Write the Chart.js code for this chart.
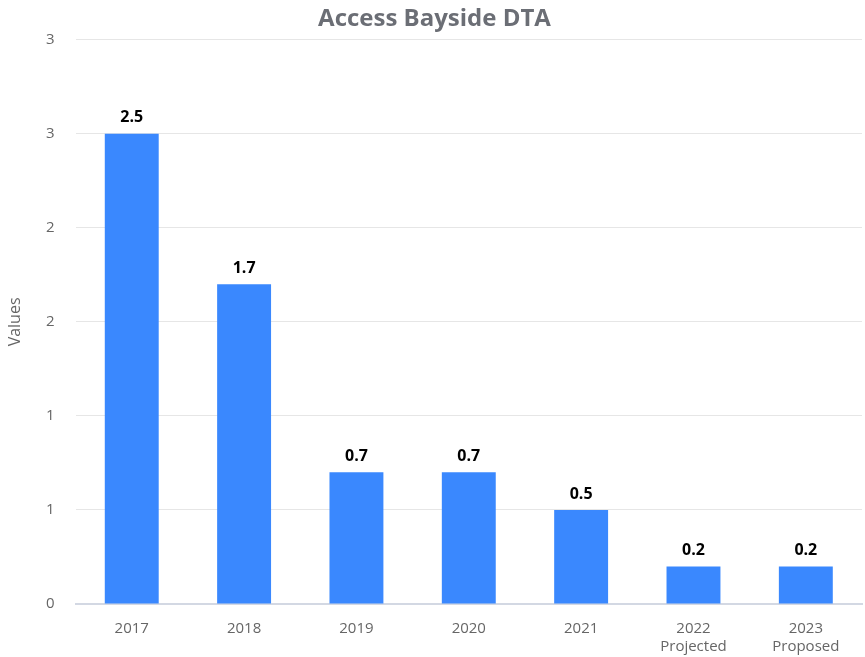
<!DOCTYPE html>
<html>
<head>
<meta charset="utf-8">
<script src="https://cdn.jsdelivr.net/npm/chart.js@4"></script>
<style>
  html, body { margin: 0; padding: 0; background: #fff; }
  #wrap { width: 865px; height: 657px; }
</style>
</head>
<body>
<div id="wrap"><canvas id="grafico"></canvas></div>
<script>
// datos del grafico
const categorias = [
    '2017', '2018', '2019', '2020', '2021',
    ['2022', 'Projected'], ['2023', 'Proposed']
];
const valores = [2.5, 1.7, 0.7, 0.7, 0.5, 0.2, 0.2];
const etiquetasY = ['0', '1', '1', '2', '2', '3', '3'];

// etiquetas encima de las barras
const etiquetasBarras = {
    id: 'etiquetasBarras',
    afterDatasetsDraw(chart) {
        const ctx = chart.ctx;
        const meta = chart.getDatasetMeta(0);
        ctx.save();
        ctx.font = 'bold 16px "Open Sans", sans-serif';
        ctx.fillStyle = '#000';
        ctx.textAlign = 'center';
        ctx.textBaseline = 'bottom';
        meta.data.forEach(function (bar, i) {
            ctx.fillText(valores[i].toFixed(1), bar.x, bar.y - 8);
        });
        ctx.restore();
    }
};

let grafico = new Chart(
    document.getElementById('grafico').getContext('2d'), {
    type: 'bar',
    data: {
        labels: categorias,
        datasets: [{
            label: 'Values',
            data: valores,
            backgroundColor: '#3a88fe',
            borderColor: '#3a88fe',
            borderWidth: 0,
            categoryPercentage: 1,
            barPercentage: 0.48
        }]
    },
    options: {
        responsive: true,
        maintainAspectRatio: false,
        animation: false,
        layout: {
            padding: { left: 7, right: 3, top: 0, bottom: -15 }
        },
        plugins: {
            legend: { display: false },
            tooltip: { enabled: false },
            title: {
                display: true,
                text: 'Access Bayside DTA',
                color: '#6b6e75',
                font: { family: 'Open Sans', size: 24, weight: 'bold' },
                padding: { top: 5, bottom: 6 }
            }
        },
        scales: {
            x: {
                grid: { display: false, drawTicks: false },
                border: { color: '#d3d8e3', width: 2 },
                ticks: {
                    color: '#666',
                    font: { family: 'Open Sans', size: 15, lineHeight: 1.2 },
                    padding: 16,
                    maxRotation: 0
                }
            },
            y: {
                min: 0,
                max: 3,
                beginAtZero: true,
                title: {
                    display: true,
                    text: 'Values',
                    color: '#666',
                    font: { family: 'Open Sans', size: 16, lineHeight: 1 },
                    padding: { top: 0, bottom: 2 }
                },
                grid: { color: '#e6e6e6', drawTicks: false },
                border: { display: false },
                ticks: {
                    stepSize: 0.5,
                    color: '#666',
                    font: { family: 'Open Sans', size: 15 },
                    padding: 21,
                    callback: function (valor, indice) {
                        return etiquetasY[indice];
                    }
                }
            }
        }
    },
    plugins: [etiquetasBarras]
});
</script>
</body>
</html>
